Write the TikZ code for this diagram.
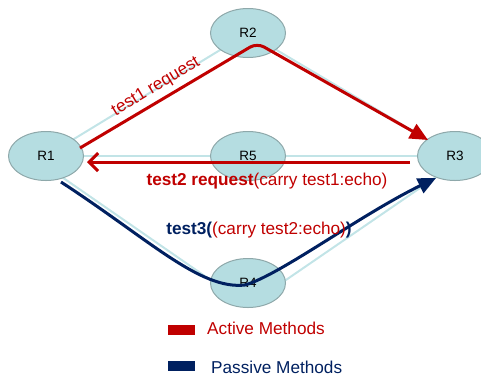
\documentclass[tikz,border=0pt]{standalone}
\usepackage{fontspec}
\setmainfont{Liberation Sans}
\usetikzlibrary{arrows.meta,shapes.geometric}
\definecolor{actred}{HTML}{C00000}
\definecolor{pasblue}{HTML}{002060}
\definecolor{nodefill}{HTML}{B5DDE1}
\definecolor{nodeline}{HTML}{8EA8AA}
\definecolor{linkc}{HTML}{C2E4E7}
\tikzset{
  router/.style={ellipse, draw=nodeline, line width=1pt, fill=nodefill,
    minimum width=75pt, minimum height=49pt, inner sep=0pt,
    font=\fontsize{13.5}{15}\selectfont},
  link/.style={draw=linkc, line width=2pt},
  actarrow/.style={draw=actred, line width=3pt},
  pasarrow/.style={draw=pasblue, line width=3pt},
  lbl/.style={font=\fontsize{17.2}{20}\selectfont, inner sep=0pt},
  legkey/.style={minimum width=27pt, minimum height=10pt, inner sep=0pt}
}
\begin{document}
\begin{tikzpicture}[x=1pt,y=-1pt]
\useasboundingbox (0,0) rectangle (481,376);
% node coordinates
\coordinate (p1) at (46,156);
\coordinate (p2) at (248,33);
\coordinate (p3) at (455,156);
\coordinate (p4) at (248,283);
\coordinate (p5) at (248,156);
% links
\draw[link] (p1) -- (p2);
\draw[link] (p2) -- (p3);
\draw[link] (p1) -- (p5);
\draw[link] (p5) -- (p3);
\draw[link] ([yshift=-10pt]p1) -- ([yshift=-23pt]p4);
\draw[link] ([yshift=-23pt]p4) -- ([yshift=-8pt]p3);
% routers
\node[router] (R1) at (p1) {R1};
\node[router] (R2) at (p2) {R2};
\node[router] (R3) at (p3) {R3};
\node[router] (R4) at (p4) {R4};
\node[router] (R5) at (p5) {R5};
% arrow end coordinates
\coordinate (a1s) at (80,148);
\coordinate (a1m) at (257,43);
\coordinate (a1e) at (428,140);
\coordinate (a2s) at (410,162);
\coordinate (a2e) at (87,162);
\coordinate (a3s) at (61,182);
\coordinate (a3m) at (245,285);
\coordinate (a3e) at (436,178);
% active methods
\draw[actarrow, rounded corners=8pt, -{Triangle[length=18pt,width=16pt]}]
  (a1s) -- (a1m) -- (a1e);
\draw[actarrow, -{Straight Barb[length=9pt,width=18pt,line width=3pt]}]
  (a2s) -- (a2e);
% passive method
\draw[pasarrow, -{Triangle[length=18pt,width=16pt]}]
  (a3s) .. controls (150,240) and (200,290) .. (a3m)
        .. controls (280,275) and (360,215) .. (a3e);
% labels
\node[lbl, text=actred, rotate=31] (l1) at (156,87) {test1 request};
\node[lbl, text=actred] (l2) at (267,181) {\textbf{test2 request}(carry test1:echo)};
\node[lbl] (l3) at (259,230) {\textcolor{pasblue}{\textbf{test3(}}\textcolor{actred}{(carry test2:echo)}\textcolor{pasblue}{\textbf{)}}};
% legend
\node[legkey, fill=actred] (k1) at (181.5,329.5) {};
\node[lbl, text=actred, anchor=west] (t1) at (207,328) {Active Methods};
\node[legkey, fill=pasblue] (k2) at (181.5,366) {};
\node[lbl, text=pasblue, anchor=west] (t2) at (211,367) {Passive Methods};
\end{tikzpicture}
\end{document}
